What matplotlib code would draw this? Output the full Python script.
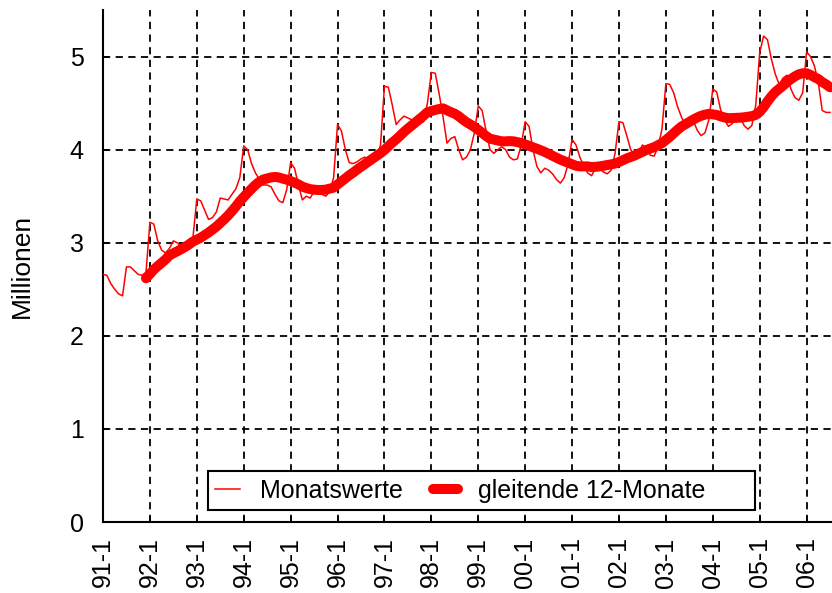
import numpy as np
import pandas as pd
import matplotlib
matplotlib.use("Agg")
import matplotlib.pyplot as plt

plt.rcParams['font.family'] = ['Liberation Sans', 'DejaVu Sans']

# Arbeitslose in Millionen, monatlich ab 1991-1
y1991 = [2.66, 2.65, 2.56, 2.50, 2.45, 2.43, 2.74, 2.74, 2.70, 2.66, 2.65, 2.68]
y1992 = [3.22, 3.20, 3.02, 2.92, 2.89, 2.94, 3.02, 3.00, 2.96, 2.95, 2.98, 3.05]
y1993 = [3.47, 3.45, 3.35, 3.25, 3.27, 3.33, 3.48, 3.47, 3.46, 3.52, 3.58, 3.70]
y1994 = [4.04, 4.00, 3.85, 3.75, 3.68, 3.62, 3.62, 3.60, 3.52, 3.45, 3.43, 3.57]
y1995 = [3.86, 3.80, 3.62, 3.46, 3.50, 3.48, 3.55, 3.56, 3.52, 3.50, 3.55, 3.70]
y1996 = [4.27, 4.20, 4.00, 3.86, 3.85, 3.87, 3.90, 3.92, 3.88, 3.85, 3.90, 4.05]
y1997 = [4.68, 4.67, 4.48, 4.27, 4.32, 4.36, 4.34, 4.32, 4.30, 4.28, 4.30, 4.50]
y1998 = [4.83, 4.82, 4.60, 4.35, 4.07, 4.12, 4.14, 4.00, 3.89, 3.92, 4.00, 4.18]
y1999 = [4.47, 4.42, 4.20, 4.00, 3.96, 4.00, 4.03, 4.00, 3.92, 3.89, 3.90, 4.05]
y2000 = [4.30, 4.25, 4.00, 3.82, 3.75, 3.80, 3.78, 3.74, 3.68, 3.64, 3.70, 3.85]
y2001 = [4.11, 4.05, 3.92, 3.82, 3.75, 3.72, 3.80, 3.80, 3.76, 3.74, 3.78, 3.96]
y2002 = [4.30, 4.29, 4.15, 4.00, 3.94, 3.96, 4.05, 4.02, 3.94, 3.93, 4.03, 4.22]
y2003 = [4.71, 4.70, 4.61, 4.46, 4.35, 4.26, 4.35, 4.31, 4.21, 4.15, 4.18, 4.32]
y2004 = [4.65, 4.62, 4.43, 4.32, 4.25, 4.28, 4.36, 4.35, 4.26, 4.22, 4.26, 4.48]
y2005 = [5.04, 5.22, 5.18, 4.97, 4.81, 4.70, 4.77, 4.80, 4.65, 4.56, 4.53, 4.61]
y2006 = [5.05, 5.00, 4.90, 4.72, 4.42, 4.40, 4.40]

monatswerte = (y1991 + y1992 + y1993 + y1994 + y1995 + y1996 + y1997 + y1998
               + y1999 + y2000 + y2001 + y2002 + y2003 + y2004 + y2005 + y2006)
tick_labels = ['91-1', '92-1', '93-1', '94-1', '95-1', '96-1', '97-1', '98-1',
               '99-1', '00-1', '01-1', '02-1', '03-1', '04-1', '05-1', '06-1']

monate = np.arange(len(monatswerte))
gleitend = pd.Series(monatswerte).rolling(12).mean()

fig = plt.figure(figsize=(8.32, 5.93), dpi=100)
ax = fig.add_axes([103 / 832, 71 / 593, 729 / 832, 512 / 593])

ax.plot(monate, monatswerte, color='#ff0000', lw=1.1, label='Monatswerte', zorder=3)
ax.plot(monate, gleitend, color='#ff0000', lw=7.2, solid_capstyle='round',
        label='gleitende 12-Monate      ', zorder=4)

ax.set_xlim(0, 186.5)
ax.set_ylim(0, 5.5)
ax.set_xticks(np.arange(len(tick_labels)) * 12)
ax.set_xticklabels(tick_labels, rotation=90)
ax.set_yticks(range(6))

ax.grid(True, color='black', linestyle=(0, (4, 3)), linewidth=1.3, zorder=1)
ax.set_axisbelow(True)
for s in ['top', 'right']:
    ax.spines[s].set_visible(False)
for s in ['left', 'bottom']:
    ax.spines[s].set_linewidth(1.5)
ax.tick_params(axis='both', direction='in', length=4, width=1.3, labelsize=18)
ax.tick_params(axis='y', pad=14)
ax.tick_params(axis='x', pad=11)

ax.set_ylabel('Millionen', fontsize=19, labelpad=26)

leg = ax.legend(loc='lower left', bbox_to_anchor=(0.144, 0.023), borderaxespad=0,
                ncol=2, fontsize=18, frameon=True, fancybox=False, framealpha=1,
                handlelength=1.0, handletextpad=0.8, columnspacing=1.2,
                borderpad=0.3)
leg.get_frame().set_edgecolor('black')
leg.get_frame().set_linewidth(1.5)

fig.savefig('out.png', dpi=100)
